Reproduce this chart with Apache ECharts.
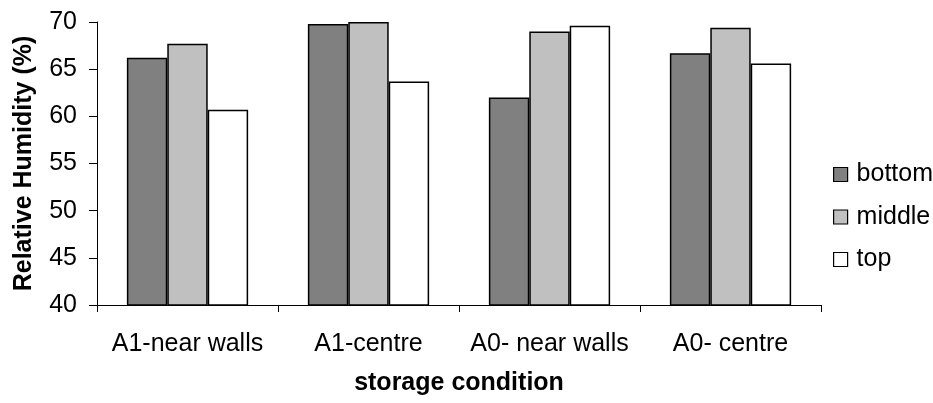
<!DOCTYPE html>
<html><head><meta charset="utf-8">
<script src="https://cdn.jsdelivr.net/npm/echarts@6/dist/echarts.min.js"></script>
<style>html,body{margin:0;padding:0;background:#fff}#c{width:933px;height:403px}</style>
</head><body><div id="c"></div>
<script>
const categories = ["A1-near walls", "A1-centre", "A0- near walls", "A0- centre"];
const bottom = [66.2, 69.8, 62.0, 66.7];
const middle = [67.7, 70.0, 69.0, 69.4];
const top_ = [60.7, 63.7, 69.6, 65.6];
const seriesNames = ["bottom", "middle", "top"];
const colors = ["#808080", "#c0c0c0", "#ffffff"];
const FONT = "Liberation Sans, Arial, sans-serif";
const chart = echarts.init(document.getElementById('c'));
const mk = (name, data, color) => ({
  name, type: 'bar', data, barGap: '0%', barCategoryGap: '33%',
  itemStyle: { color, borderColor: '#000', borderWidth: 1.5 }
});
chart.setOption({
  animation: false,
  backgroundColor: '#fff',
  grid: { left: 97, right: 112, top: 22, bottom: 98, containLabel: false, outerBoundsMode: 'none' },
  legend: {
    orient: 'vertical', left: 828, top: 157,
    itemWidth: 14, itemHeight: 14, itemGap: 17.5,
    icon: 'rect',
    itemStyle: { borderColor: '#000', borderWidth: 1.2 },
    textStyle: { fontFamily: FONT, fontSize: 25, color: '#000', lineHeight: 25, padding: [0, 0, 0, 4] },
    data: seriesNames
  },
  xAxis: {
    type: 'category', data: categories,
    name: 'storage condition', nameLocation: 'middle', nameGap: 66,
    nameTextStyle: { fontFamily: FONT, fontSize: 25, fontWeight: 'bold', color: '#000' },
    axisLine: { lineStyle: { color: '#000', width: 1 } },
    axisTick: { show: true, length: 7, lineStyle: { color: '#000' } },
    axisLabel: { fontFamily: FONT, fontSize: 25, color: '#000', margin: 27, interval: 0, hideOverlap: false }
  },
  yAxis: {
    type: 'value', min: 40, max: 70, interval: 5,
    name: 'Relative Humidity (%)', nameLocation: 'middle', nameGap: 60,
    nameTextStyle: { fontFamily: FONT, fontSize: 25, fontWeight: 'bold', color: '#000' },
    axisLine: { show: true, lineStyle: { color: '#000', width: 1 } },
    axisTick: { show: true, length: 8, lineStyle: { color: '#000' } },
    splitLine: { show: false },
    axisLabel: { fontFamily: FONT, fontSize: 25, color: '#000', margin: 20 }
  },
  series: [
    mk(seriesNames[0], bottom, colors[0]),
    mk(seriesNames[1], middle, colors[1]),
    mk(seriesNames[2], top_, colors[2])
  ]
});
</script></body></html>
